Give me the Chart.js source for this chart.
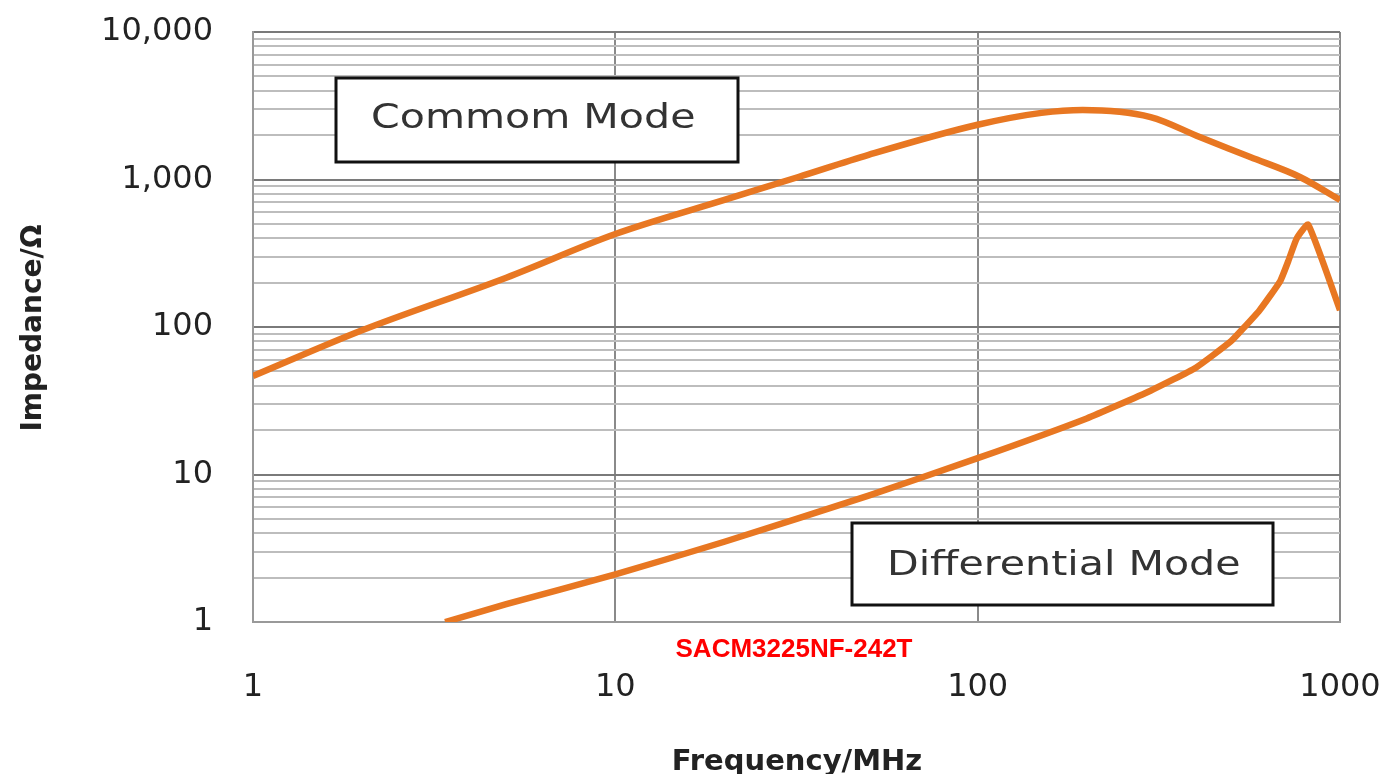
<!DOCTYPE html>
<html>
<head>
<meta charset="utf-8">
<style>
  html, body { margin: 0; padding: 0; background: #fff; }
  #wrap { width: 1391px; height: 774px; }
</style>
<script src="https://cdn.jsdelivr.net/npm/chart.js@4.4.1/dist/chart.umd.min.js"></script>
</head>
<body>
<div id="wrap"><canvas id="chart" width="1391" height="774"></canvas></div>
<script>
// Common mode impedance curve (MHz / Ohm)
const cmFreq = [1, 2, 5, 10, 20, 32, 50, 100, 150, 195, 300, 410, 565, 775, 1000];
const cmImp  = [46.5, 95, 216, 427, 727, 1040, 1470, 2350, 2830, 2960, 2650, 1940, 1420, 1040, 727];

// Differential mode impedance curve
const dmFreq = [3.39, 5, 10, 20, 50, 100, 200, 300, 400, 500, 541, 600, 684, 720, 760, 817, 1000];
const dmImp  = [1, 1.32, 2.1, 3.5, 7.2, 12.9, 24, 37, 53, 80, 98, 130, 205, 280, 400, 494, 130];

const xTicks = [1, 10, 100, 1000];
const yDecades = [1, 10, 100, 1000, 10000];
const yTicks = [];
for (let d = 1; d < 10000; d *= 10) {
    for (let m = 1; m < 10; m++) yTicks.push(m * d);
}
yTicks.push(10000);

const orange = '#e87722';

function toPoints(xs, ys) {
    return xs.map((x, i) => ({ x: x, y: ys[i] }));
}

// keep the plot area fixed, labels may overflow into the margins
function noPadding(axis) {
    axis.paddingTop = 0;
    axis.paddingBottom = 0;
    axis.paddingLeft = 0;
    axis.paddingRight = 0;
}

// boxes, axis titles and part number drawn on top
const overlay = {
    id: 'overlay',
    afterDraw(chart) {
        const ctx = chart.ctx;
        ctx.save();

        function box(x1, y1, x2, y2, text, tx, ty) {
            ctx.fillStyle = '#fff';
            ctx.fillRect(x1, y1, x2 - x1, y2 - y1);
            ctx.strokeStyle = '#111';
            ctx.lineWidth = 3;
            ctx.strokeRect(x1, y1, x2 - x1, y2 - y1);
            ctx.save();
            ctx.translate(tx, ty);
            ctx.scale(1.21, 1);
            ctx.font = '34px "DejaVu Sans"';
            ctx.fillStyle = '#333';
            ctx.textAlign = 'left';
            ctx.textBaseline = 'alphabetic';
            ctx.fillText(text, 0, 0);
            ctx.restore();
        }
        box(336, 78, 738, 162, 'Commom Mode', 371, 128);
        box(852, 523, 1273, 605, 'Differential Mode', 887, 575);

        // part number
        ctx.font = 'bold 26px "Liberation Sans"';
        ctx.fillStyle = '#ff0000';
        ctx.textAlign = 'center';
        ctx.textBaseline = 'alphabetic';
        ctx.fillText('SACM3225NF-242T', 794, 657);

        // axis titles
        ctx.fillStyle = '#222';
        ctx.font = 'bold 29px "DejaVu Sans"';
        ctx.fillText('Frequency/MHz', 797, 770);

        ctx.save();
        ctx.translate(41, 328);
        ctx.rotate(-Math.PI / 2);
        ctx.font = 'bold 28px "DejaVu Sans"';
        ctx.fillText('Impedance/\u03A9', 0, 0);
        ctx.restore();

        ctx.restore();
    }
};

new Chart(document.getElementById('chart'), {
    type: 'line',
    data: {
        datasets: [
            {
                label: 'Common Mode',
                data: toPoints(cmFreq, cmImp),
                borderColor: orange,
                borderWidth: 6.5,
                pointRadius: 0,
                cubicInterpolationMode: 'monotone',
                fill: false
            },
            {
                label: 'Differential Mode',
                data: toPoints(dmFreq, dmImp),
                borderColor: orange,
                borderWidth: 6.5,
                pointRadius: 0,
                tension: 0.15,
                fill: false
            }
        ]
    },
    options: {
        responsive: false,
        animation: false,
        layout: { padding: { top: 32, right: 51, left: 0, bottom: 0 } },
        plugins: {
            legend: { display: false },
            tooltip: { enabled: false }
        },
        scales: {
            x: {
                type: 'logarithmic',
                min: 1,
                max: 1000,
                afterBuildTicks: (axis) => { axis.ticks = xTicks.map(v => ({ value: v })); },
                afterFit: (axis) => { axis.height = 152; noPadding(axis); },
                grid: { color: '#8a8a8a', lineWidth: 2, drawTicks: false },
                border: { color: '#999', width: 2 },
                ticks: {
                    autoSkip: false,
                    maxRotation: 0,
                    padding: 46,
                    color: '#222',
                    font: { family: 'DejaVu Sans', size: 32 },
                    callback: (v) => String(v)
                }
            },
            y: {
                type: 'logarithmic',
                min: 1,
                max: 10000,
                afterBuildTicks: (axis) => { axis.ticks = yTicks.map(v => ({ value: v })); },
                afterFit: (axis) => { axis.width = 253; noPadding(axis); },
                grid: {
                    color: (c) => yDecades.includes(c.tick.value) ? '#7a7a7a' : '#bdbdbd',
                    lineWidth: 2,
                    drawTicks: false
                },
                border: { color: '#999', width: 2 },
                ticks: {
                    autoSkip: false,
                    padding: 40,
                    color: '#222',
                    font: { family: 'DejaVu Sans', size: 32 },
                    callback: (v) => yDecades.includes(v) ? v.toLocaleString('en-US') : ''
                }
            }
        }
    },
    plugins: [overlay]
});
</script>
</body>
</html>
